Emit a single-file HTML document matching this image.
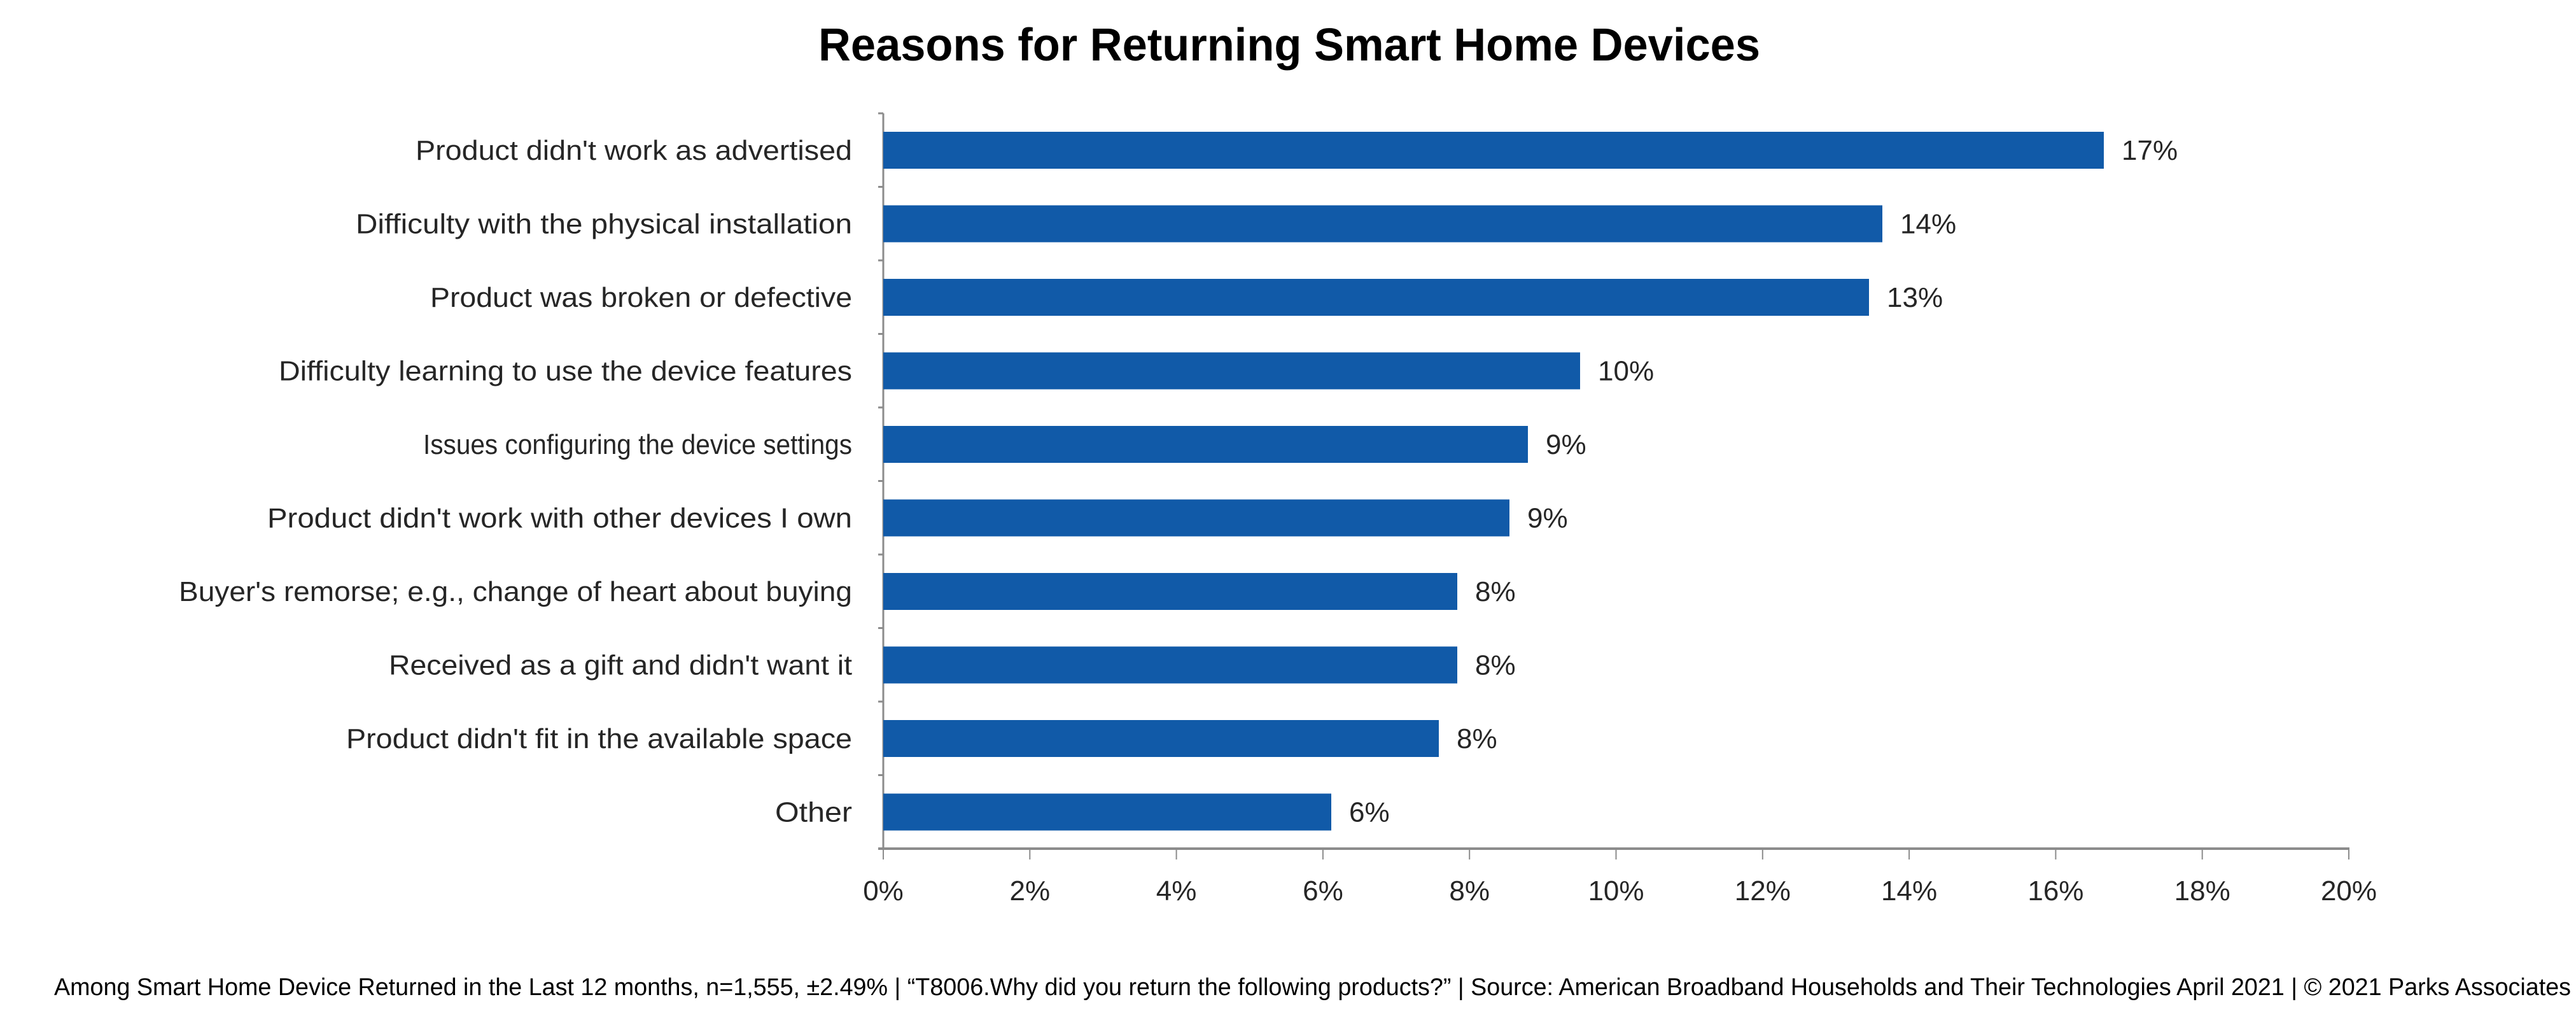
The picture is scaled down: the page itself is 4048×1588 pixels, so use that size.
<!DOCTYPE html>
<html><head><meta charset="utf-8"><style>
html,body{margin:0;padding:0;background:#fff;}
svg{display:block;}
text{font-family:"Liberation Sans",sans-serif;fill:#262626;}
</style></head><body>
<svg width="4048" height="1588" viewBox="0 0 4048 1588" xmlns="http://www.w3.org/2000/svg">
<text x="2026" y="95" text-anchor="middle" font-size="72" font-weight="bold" style="fill:#000" textLength="1480" lengthAdjust="spacingAndGlyphs">Reasons for Returning Smart Home Devices</text>
<g stroke="#8c8c8c" stroke-width="3">
<line x1="1388" y1="178" x2="1388" y2="1333"/>
<line x1="1380" y1="178" x2="1388" y2="178"/>
<line x1="1380" y1="293.5" x2="1388" y2="293.5"/>
<line x1="1380" y1="409" x2="1388" y2="409"/>
<line x1="1380" y1="524.5" x2="1388" y2="524.5"/>
<line x1="1380" y1="640" x2="1388" y2="640"/>
<line x1="1380" y1="755.5" x2="1388" y2="755.5"/>
<line x1="1380" y1="871" x2="1388" y2="871"/>
<line x1="1380" y1="986.5" x2="1388" y2="986.5"/>
<line x1="1380" y1="1102" x2="1388" y2="1102"/>
<line x1="1380" y1="1217.5" x2="1388" y2="1217.5"/>
</g>
<line x1="1380" y1="1333" x2="3692" y2="1333" stroke="#8c8c8c" stroke-width="4"/>
<g stroke="#8c8c8c" stroke-width="2">
<line x1="1388" y1="1333" x2="1388" y2="1350"/><line x1="1618.3" y1="1333" x2="1618.3" y2="1350"/><line x1="1848.6" y1="1333" x2="1848.6" y2="1350"/><line x1="2078.9" y1="1333" x2="2078.9" y2="1350"/><line x1="2309.2" y1="1333" x2="2309.2" y2="1350"/><line x1="2539.5" y1="1333" x2="2539.5" y2="1350"/><line x1="2769.8" y1="1333" x2="2769.8" y2="1350"/><line x1="3000.1" y1="1333" x2="3000.1" y2="1350"/><line x1="3230.4" y1="1333" x2="3230.4" y2="1350"/><line x1="3460.7" y1="1333" x2="3460.7" y2="1350"/><line x1="3691" y1="1333" x2="3691" y2="1350"/>
</g>
<g fill="#115aa8">
<rect x="1388" y="207" width="1918" height="58"/>
<rect x="1388" y="322.5" width="1570" height="58"/>
<rect x="1388" y="438" width="1549" height="58"/>
<rect x="1388" y="553.5" width="1095" height="58"/>
<rect x="1388" y="669" width="1013" height="58"/>
<rect x="1388" y="784.5" width="984" height="58"/>
<rect x="1388" y="900" width="902" height="58"/>
<rect x="1388" y="1015.5" width="902" height="58"/>
<rect x="1388" y="1131" width="873" height="58"/>
<rect x="1388" y="1246.5" width="704" height="58"/>
</g>
<g font-size="44" text-anchor="end">
<text x="1339" y="251" textLength="686" lengthAdjust="spacingAndGlyphs">Product didn't work as advertised</text>
<text x="1339" y="366.5" textLength="780" lengthAdjust="spacingAndGlyphs">Difficulty with the physical installation</text>
<text x="1339" y="482" textLength="663" lengthAdjust="spacingAndGlyphs">Product was broken or defective</text>
<text x="1339" y="597.5" textLength="901" lengthAdjust="spacingAndGlyphs">Difficulty learning to use the device features</text>
<text x="1339" y="713" textLength="674" lengthAdjust="spacingAndGlyphs">Issues configuring the device settings</text>
<text x="1339" y="828.5" textLength="919" lengthAdjust="spacingAndGlyphs">Product didn't work with other devices I own</text>
<text x="1339" y="944" textLength="1058" lengthAdjust="spacingAndGlyphs">Buyer's remorse; e.g., change of heart about buying</text>
<text x="1339" y="1059.5" textLength="728" lengthAdjust="spacingAndGlyphs">Received as a gift and didn't want it</text>
<text x="1339" y="1175" textLength="795" lengthAdjust="spacingAndGlyphs">Product didn't fit in the available space</text>
<text x="1339" y="1290.5" textLength="121" lengthAdjust="spacingAndGlyphs">Other</text>
</g>
<g font-size="44">
<text x="3334" y="251">17%</text>
<text x="2986" y="366.5">14%</text>
<text x="2965" y="482">13%</text>
<text x="2511" y="597.5">10%</text>
<text x="2429" y="713">9%</text>
<text x="2400" y="828.5">9%</text>
<text x="2318" y="944">8%</text>
<text x="2318" y="1059.5">8%</text>
<text x="2289" y="1175">8%</text>
<text x="2120" y="1290.5">6%</text>
</g>
<g font-size="44" text-anchor="middle">
<text x="1388" y="1414">0%</text><text x="1618.3" y="1414">2%</text><text x="1848.6" y="1414">4%</text><text x="2078.9" y="1414">6%</text><text x="2309.2" y="1414">8%</text><text x="2539.5" y="1414">10%</text><text x="2769.8" y="1414">12%</text><text x="3000.1" y="1414">14%</text><text x="3230.4" y="1414">16%</text><text x="3460.7" y="1414">18%</text><text x="3691" y="1414">20%</text>
</g>
<text x="85" y="1563" font-size="38" style="fill:#000" textLength="3955" lengthAdjust="spacingAndGlyphs">Among Smart Home Device Returned in the Last 12 months, n=1,555, ±2.49% | “T8006.Why did you return the following products?” | Source: American Broadband Households and Their Technologies April 2021 | © 2021 Parks Associates</text>
</svg>
</body></html>
